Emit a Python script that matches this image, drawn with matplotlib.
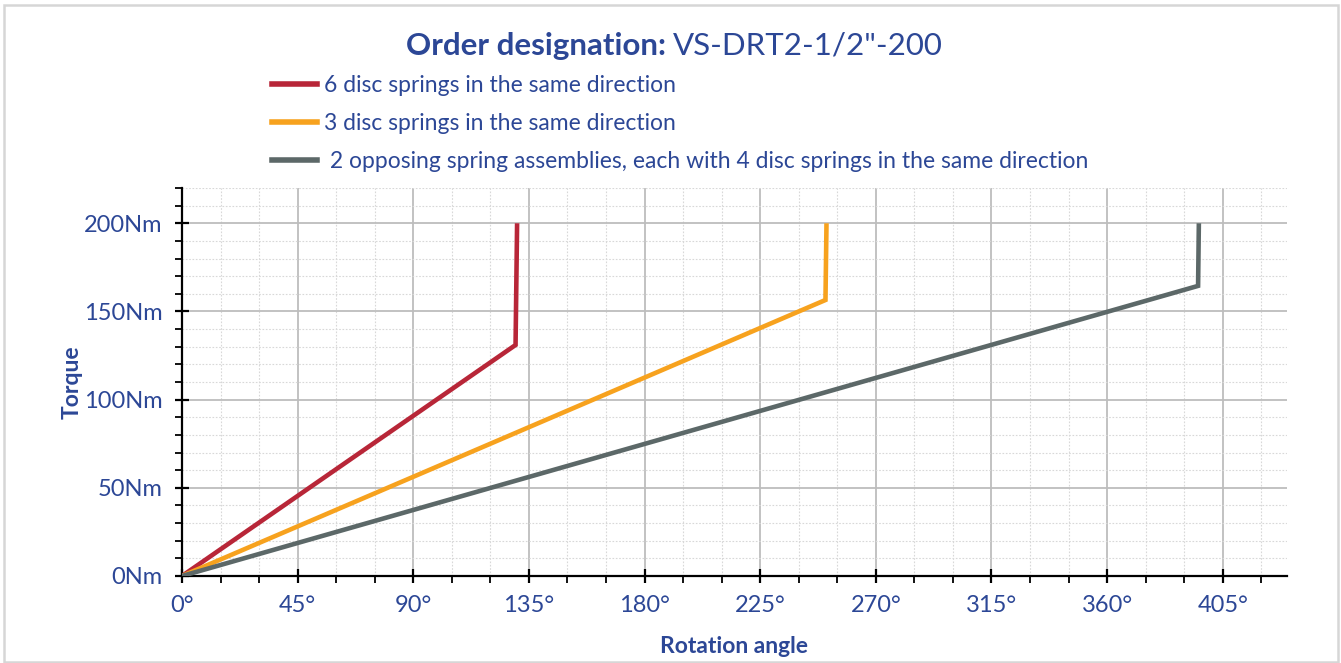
import matplotlib
matplotlib.use("Agg")
import matplotlib.pyplot as plt
from matplotlib.ticker import MultipleLocator, FuncFormatter
from matplotlib.lines import Line2D
from matplotlib.patches import Rectangle

# ---- data ----
red_angle = [0, 129.8, 130.4]
red_torque = [0, 131, 200]
orange_angle = [0, 250.4, 250.8]
orange_torque = [0, 156.5, 200]
gray_angle = [0, 395.4, 395.7]
gray_torque = [0, 164.5, 200]

series_labels = [
    "6 disc springs in the same direction",
    "3 disc springs in the same direction",
    " 2 opposing spring assemblies, each with 4 disc springs in the same direction",
]
colors = ["#b82638", "#f7a21e", "#5c6868"]
text_blue = "#2c4796"

plt.rcParams['font.family'] = ['Lato', 'DejaVu Sans']

fig = plt.figure(figsize=(13.41, 6.63), dpi=100)
W, H = 1341, 663
ax = fig.add_axes([182 / W, 1 - 576 / H, (1287 - 182) / W, (576 - 188) / H])

for xs, ys, c in [(red_angle, red_torque, colors[0]),
                  (orange_angle, orange_torque, colors[1]),
                  (gray_angle, gray_torque, colors[2])]:
    ax.plot(xs, ys, color=c, lw=3.3, solid_joinstyle='miter', solid_capstyle='butt', zorder=3)

ax.set_xlim(0, 430)
ax.set_ylim(0, 220)
ax.xaxis.set_major_locator(MultipleLocator(45))
ax.xaxis.set_minor_locator(MultipleLocator(15))
ax.yaxis.set_major_locator(MultipleLocator(50))
ax.yaxis.set_minor_locator(MultipleLocator(10))
ax.xaxis.set_major_formatter(FuncFormatter(lambda v, p: f"{int(round(v))}°"))
ax.yaxis.set_major_formatter(FuncFormatter(lambda v, p: f"{int(round(v))}Nm"))

ax.grid(which='major', color='#bdbdbd', lw=1.3, linestyle='-', zorder=0)
ax.grid(which='minor', color='#d8d8d8', lw=0.8, linestyle=(0, (1.5, 1.5)), zorder=0)
ax.set_axisbelow(True)

for s in ['top', 'right']:
    ax.spines[s].set_visible(False)
for s in ['left', 'bottom']:
    ax.spines[s].set_color('black')
    ax.spines[s].set_linewidth(1.6)

ax.tick_params(which='major', direction='inout', length=10, width=1.6, color='black',
               labelsize=17, labelcolor=text_blue, pad=9)
ax.tick_params(which='minor', direction='out', length=5, width=1.3, color='black')
ax.tick_params(axis='y', which='major', pad=9)

ax.set_xlabel("Rotation angle", fontsize=16.5, fontweight='bold', color=text_blue, labelpad=14)
ax.set_ylabel("Torque", fontsize=16.5, fontweight='bold', color=text_blue, labelpad=1)

# title
fig.text(666 / W, 1 - 46 / H, "Order designation:", fontsize=22.5, fontweight='bold',
         color=text_blue, ha='right', va='center')
fig.text(673 / W, 1 - 46 / H, "VS-DRT2-1/2\"-200", fontsize=22.5,
         color=text_blue, ha='left', va='center')

# legend
handles = [Line2D([0], [0], color=c, lw=4.0) for c in colors]
leg = fig.legend(handles, series_labels, loc='upper left',
                 bbox_to_anchor=(251 / W, 1 - 54 / H), frameon=False,
                 fontsize=16.5, labelcolor=text_blue, handlelength=2.0,
                 handletextpad=0.3, labelspacing=0.76)

# outer border
fig.patches.append(Rectangle((4 / W, 1 / H), (1338 - 4) / W, (658 - 1) / H,
                             transform=fig.transFigure, fill=False,
                             edgecolor='#d6d6d6', lw=1.8))

fig.savefig("out.png", dpi=100, facecolor='white')
